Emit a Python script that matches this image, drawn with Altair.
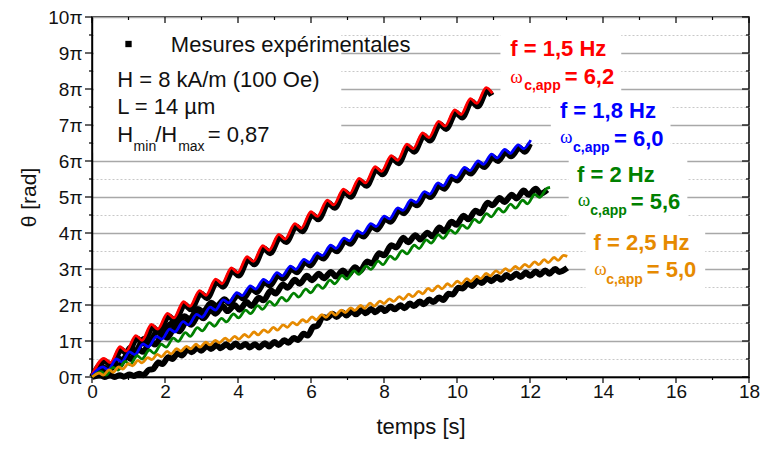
import altair as alt
import pandas as pd

# ---------------- data ----------------
# fitted curves (t in s, theta in units of pi)
red_t = [0.00, 0.33,0.50, 0.77,0.94, 1.20,1.37, 1.63,1.80, 2.07,2.24, 2.51,2.68, 2.95,3.12, 3.39,3.56, 3.82,3.99, 4.25,4.42, 4.68,4.85, 5.12,5.29, 5.56,5.73, 6.00,6.17, 6.45,6.62, 6.89,7.06, 7.32,7.49, 7.76,7.93, 8.20,8.37, 8.63,8.80, 9.06,9.23, 9.50,9.67, 9.94,10.11, 10.37,10.54, 10.80,10.97]
red_theta = [0.05, 0.52,0.40, 0.84,0.72, 1.15,1.02, 1.46,1.33, 1.77,1.64, 2.09,1.96, 2.40,2.27, 2.72,2.59, 3.03,2.90, 3.34,3.21, 3.65,3.52, 3.96,3.83, 4.26,4.13, 4.59,4.46, 4.91,4.78, 5.22,5.09, 5.52,5.39, 5.84,5.71, 6.15,6.02, 6.47,6.34, 6.78,6.65, 7.10,6.97, 7.42,7.29, 7.73,7.60, 8.04,7.88]

blue_t = [0.00, 0.30,0.44, 0.67,0.81, 1.03,1.17, 1.40,1.54, 1.77,1.91, 2.13,2.27, 2.50,2.64, 2.87,3.01, 3.24,3.38, 3.60,3.74, 3.97,4.11, 4.34,4.48, 4.70,4.84, 5.07,5.21, 5.44,5.58, 5.81,5.95, 6.17,6.31, 6.54,6.68, 6.91,7.05, 7.27,7.41, 7.64,7.78, 8.01,8.15, 8.38,8.52, 8.74,8.88, 9.11,9.25, 9.48,9.62, 9.84,9.98, 10.21,10.35, 10.58,10.72, 10.95,11.09, 11.31,11.45, 11.68,11.82, 12.02]
blue_theta = [0.05, 0.28,0.20, 0.50,0.42, 0.70,0.62, 0.92,0.84, 1.13,1.05, 1.33,1.25, 1.54,1.45, 1.74,1.66, 1.94,1.86, 2.14,2.06, 2.34,2.26, 2.53,2.44, 2.71,2.62, 2.90,2.81, 3.08,2.99, 3.27,3.18, 3.45,3.37, 3.66,3.57, 3.86,3.78, 4.06,3.98, 4.26,4.18, 4.47,4.39, 4.70,4.63, 4.92,4.85, 5.15,5.08, 5.39,5.31, 5.61,5.54, 5.82,5.73, 6.00,5.91, 6.19,6.08, 6.32,6.21, 6.45,6.34, 6.58]

green_t = [0.00, 0.25,0.38, 0.58,0.71, 0.91,1.04, 1.24,1.37, 1.57,1.70, 1.90,2.03, 2.23,2.36, 2.56,2.69, 2.89,3.02, 3.22,3.35, 3.55,3.68, 3.88,4.01, 4.21,4.34, 4.54,4.67, 4.87,5.00, 5.20,5.33, 5.53,5.66, 5.86,5.99, 6.19,6.32, 6.52,6.65, 6.85,6.98, 7.18,7.31, 7.51,7.64, 7.84,7.97, 8.17,8.30, 8.50,8.63, 8.83,8.96, 9.16,9.29, 9.49,9.62, 9.82,9.95, 10.15,10.28, 10.48,10.61, 10.81,10.94, 11.14,11.27, 11.47,11.60, 11.80,11.93, 12.13,12.26, 12.46, 12.55]
green_theta = [0.00, 0.15,0.05, 0.27,0.19, 0.43,0.34, 0.59,0.50, 0.75,0.66, 0.91,0.83, 1.08,0.99, 1.23,1.13, 1.37,1.28, 1.51,1.41, 1.63,1.53, 1.75,1.64, 1.86,1.76, 1.98,1.88, 2.10,1.99, 2.21,2.11, 2.33,2.22, 2.44,2.34, 2.56,2.46, 2.69,2.59, 2.82,2.72, 2.95,2.85, 3.08,2.99, 3.22,3.12, 3.36,3.27, 3.51,3.42, 3.66,3.57, 3.81,3.72, 3.95,3.85, 4.08,3.99, 4.22,4.13, 4.38,4.29, 4.54,4.45, 4.68,4.58, 4.80,4.69, 4.91,4.81, 5.07,4.99, 5.24, 5.27]

orange_t = [0.00, 0.20,0.31, 0.47,0.58, 0.73,0.84, 1.00,1.11, 1.26,1.37, 1.53,1.64, 1.79,1.90, 2.06,2.17, 2.32,2.43, 2.59,2.70, 2.85,2.96, 3.12,3.23, 3.38,3.49, 3.65,3.76, 3.91,4.02, 4.18,4.29, 4.44,4.55, 4.71,4.82, 4.97,5.08, 5.24,5.35, 5.50,5.61, 5.77,5.88, 6.03,6.14, 6.30,6.41, 6.56,6.67, 6.83,6.94, 7.09,7.20, 7.36,7.47, 7.62,7.73, 7.89,8.00, 8.15,8.26, 8.42,8.53, 8.68,8.79, 8.95,9.06, 9.21,9.32, 9.48,9.59, 9.74,9.85, 10.01,10.12, 10.27,10.38, 10.54,10.65, 10.80,10.91, 11.07,11.18, 11.33,11.44, 11.60,11.71, 11.86,11.97, 12.13,12.24, 12.39,12.50, 12.66,12.77, 12.92, 13.02]
orange_theta = [0.00, 0.11,0.05, 0.20,0.13, 0.28,0.22, 0.37,0.31, 0.46,0.39, 0.54,0.48, 0.63,0.56, 0.71,0.64, 0.79,0.72, 0.85,0.78, 0.91,0.83, 0.97,0.89, 1.02,0.95, 1.08,1.00, 1.13,1.05, 1.18,1.11, 1.25,1.17, 1.31,1.24, 1.38,1.30, 1.45,1.38, 1.52,1.45, 1.59,1.53, 1.67,1.59, 1.73,1.66, 1.80,1.72, 1.86,1.79, 1.92,1.85, 1.99,1.91, 2.05,1.97, 2.11,2.04, 2.17,2.10, 2.23,2.16, 2.30,2.23, 2.38,2.31, 2.46,2.39, 2.53,2.45, 2.59,2.52, 2.66,2.59, 2.73,2.66, 2.80,2.73, 2.88,2.81, 2.95,2.88, 3.01,2.94, 3.07,3.00, 3.13,3.06, 3.20,3.12, 3.26,3.18, 3.32,3.24, 3.38, 3.35]

# measured curves (black)
m15_t = [0.00, 0.36,0.53, 0.80,0.97, 1.23,1.40, 1.66,1.83, 2.10,2.27, 2.54,2.71, 2.98,3.15, 3.42,3.59, 3.85,4.02, 4.28,4.45, 4.71,4.88, 5.15,5.32, 5.59,5.76, 6.03,6.20, 6.48,6.65, 6.92,7.09, 7.35,7.52, 7.79,7.96, 8.23,8.40, 8.66,8.83, 9.09,9.26, 9.53,9.70, 9.97,10.14, 10.40,10.57, 10.83,10.95]
m15_theta = [0.00, 0.44,0.32, 0.76,0.64, 1.07,0.94, 1.38,1.25, 1.69,1.56, 2.01,1.88, 2.32,2.19, 2.64,2.51, 2.95,2.82, 3.26,3.13, 3.57,3.44, 3.88,3.75, 4.18,4.05, 4.51,4.38, 4.83,4.70, 5.14,5.01, 5.44,5.31, 5.76,5.63, 6.07,5.94, 6.39,6.26, 6.70,6.57, 7.02,6.89, 7.34,7.21, 7.65,7.52, 7.96,7.82]

m18_t = [0.00, 0.33,0.47, 0.70,0.84, 1.06,1.20, 1.43,1.57, 1.80,1.94, 2.16,2.30, 2.53,2.67, 2.90,3.04, 3.27,3.41, 3.63,3.77, 4.00,4.14, 4.37,4.51, 4.73,4.87, 5.10,5.24, 5.47,5.61, 5.84,5.98, 6.20,6.34, 6.57,6.71, 6.94,7.08, 7.30,7.44, 7.67,7.81, 8.04,8.18, 8.41,8.55, 8.77,8.91, 9.14,9.28, 9.51,9.65, 9.87,10.01, 10.24,10.38, 10.61,10.75, 10.98,11.12, 11.34,11.48, 11.71,11.85, 12.00]
m18_theta = [0.00, 0.26,0.18, 0.53,0.46, 0.82,0.74, 1.06,0.98, 1.28,1.20, 1.48,1.40, 1.69,1.60, 1.89,1.81, 2.06,1.96, 2.16,2.04, 2.28,2.18, 2.45,2.36, 2.63,2.54, 2.82,2.73, 3.00,2.91, 3.19,3.10, 3.37,3.29, 3.58,3.49, 3.78,3.70, 3.98,3.90, 4.18,4.10, 4.39,4.31, 4.62,4.55, 4.84,4.77, 5.07,5.00, 5.31,5.23, 5.53,5.46, 5.74,5.65, 5.92,5.83, 6.11,6.00, 6.24,6.13, 6.37,6.26, 6.48]

m20_t = [0.00, 0.28,0.41, 0.61,0.74, 0.94,1.07, 1.27,1.40, 1.60,1.73, 1.93,2.06, 2.26,2.39, 2.59,2.72, 2.92,3.05, 3.25,3.38, 3.58,3.71, 3.91,4.04, 4.24,4.37, 4.57,4.70, 4.90,5.03, 5.23,5.36, 5.56,5.69, 5.89,6.02, 6.22,6.35, 6.55,6.68, 6.88,7.01, 7.21,7.34, 7.54,7.67, 7.87,8.00, 8.20,8.33, 8.53,8.66, 8.86,8.99, 9.19,9.32, 9.52,9.65, 9.85,9.98, 10.18,10.31, 10.51,10.64, 10.84,10.97, 11.17,11.30, 11.50,11.63, 11.83,11.96, 12.16,12.29, 12.47]
m20_theta = [0.00, 0.20,0.12, 0.38,0.30, 0.57,0.50, 0.77,0.70, 0.97,0.90, 1.17,1.09, 1.35,1.27, 1.53,1.45, 1.72,1.63, 1.86,1.76, 1.97,1.83, 2.00,1.87, 2.08,1.97, 2.20,2.13, 2.40,2.32, 2.57,2.48, 2.70,2.59, 2.81,2.69, 2.87,2.74, 2.92,2.79, 2.96,2.83, 3.05,2.94, 3.21,3.15, 3.44,3.38, 3.66,3.60, 3.87,3.74, 3.94,3.82, 4.01,3.91, 4.15,4.05, 4.31,4.23, 4.48,4.38, 4.62,4.55, 4.84,4.77, 4.97,4.86, 5.06,4.96, 5.18,5.06, 5.23,5.09, 5.20]

m25_t = [0.00, 0.23,0.34, 0.50,0.61, 0.76,0.87, 1.03,1.14, 1.29,1.40, 1.56,1.67, 1.82,1.93, 2.09,2.20, 2.35,2.46, 2.62,2.73, 2.88,2.99, 3.15,3.26, 3.41,3.52, 3.68,3.79, 3.94,4.05, 4.21,4.32, 4.47,4.58, 4.74,4.85, 5.00,5.11, 5.27,5.38, 5.53,5.64, 5.80,5.91, 6.06,6.17, 6.33,6.44, 6.59,6.70, 6.86,6.97, 7.12,7.23, 7.39,7.50, 7.65,7.76, 7.92,8.03, 8.18,8.29, 8.45,8.56, 8.71,8.82, 8.98,9.09, 9.24,9.35, 9.51,9.62, 9.77,9.88, 10.04,10.15, 10.30,10.41, 10.57,10.68, 10.83,10.94, 11.10,11.21, 11.36,11.47, 11.63,11.74, 11.89,12.00, 12.16,12.27, 12.42,12.53, 12.69,12.80, 13.02]
m25_theta = [0.00, 0.05,0.00, 0.05,0.00, 0.05,0.01, 0.07,0.03, 0.09,0.05, 0.20,0.22, 0.40,0.36, 0.55,0.50, 0.66,0.60, 0.77,0.69, 0.81,0.73, 0.86,0.78, 0.89,0.80, 0.91,0.82, 0.93,0.83, 0.92,0.82, 0.91,0.82, 0.94,0.85, 0.97,0.89, 1.02,0.95, 1.08,1.03, 1.20,1.15, 1.39,1.42, 1.67,1.64, 1.76,1.67, 1.80,1.71, 1.83,1.74, 1.86,1.77, 1.89,1.80, 1.92,1.83, 1.96,1.88, 1.99,1.91, 2.04,1.97, 2.10,2.02, 2.15,2.08, 2.21,2.14, 2.31,2.29, 2.48,2.46, 2.60,2.53, 2.68,2.61, 2.74,2.66, 2.78,2.70, 2.83,2.75, 2.87,2.78, 2.90,2.81, 2.93,2.84, 2.96,2.87, 3.00,2.92, 3.03]

# axis ticks
x_ticks = list(range(0, 19))
y_ticks = [i / 2 for i in range(21)]

# labels
fit_names = ["f15", "f18", "f20", "f25"]
fit_colors = ["#FF0000", "#0000FF", "#008000", "#E68A00"]
f_labels = ["f = 1,5 Hz", "f = 1,8 Hz", "f = 2 Hz", "f = 2,5 Hz"]
w_values = ["= 6,2", "= 6,0", "= 5,6", "= 5,0"]

# ---------------- build tables ----------------
def mk(name, t, th):
    d = pd.DataFrame({"t": t, "theta": th})
    d["curve"] = name
    return d

fits = pd.concat([mk("f15", red_t, red_theta), mk("f18", blue_t, blue_theta),
                  mk("f20", green_t, green_theta), mk("f25", orange_t, orange_theta)])
meas = pd.concat([mk("m15", m15_t, m15_theta), mk("m18", m18_t, m18_theta),
                  mk("m20", m20_t, m20_theta), mk("m25", m25_t, m25_theta)])

W, H = 657, 360
FONT = "Liberation Sans"

x_axis = alt.Axis(
    values=x_ticks, labelExpr="datum.value % 2 === 0 ? datum.label : ''",
    ticks=False, tickSize=0, grid=False,
    titleFontSize=22, titleFontWeight="normal",
    labelFontSize=19, labelPadding=5, titlePadding=15, labelOverlap=False, labelFlush=False,
    domainColor="black", domainWidth=1.5,
    labelColor="#111", titleColor="#111", labelFont=FONT, titleFont=FONT)

y_axis = alt.Axis(
    values=y_ticks, labelExpr="datum.value % 1 === 0 ? datum.value + 'π' : ''",
    ticks=False, tickSize=0, grid=True,
    gridColor={"condition": {"test": "datum.value % 1 === 0", "value": "#A8A8A8"}, "value": "#C8C8C8"},
    gridDash={"condition": {"test": "datum.value % 1 === 0", "value": []}, "value": [2, 2]},
    gridWidth={"condition": {"test": "datum.value % 1 === 0", "value": 1.3}, "value": 1},
    titleFontSize=21, titleFontWeight="normal", titlePadding=8,
    labelFontSize=19, labelPadding=10, labelOverlap=False, labelFlush=False,
    domainColor="black", domainWidth=1.5,
    labelColor="#111", titleColor="#111", labelFont=FONT, titleFont=FONT)

xs = alt.Scale(domain=[0, 18], nice=False, zero=False)
ys = alt.Scale(domain=[0, 10], nice=False, zero=False)


def X(field="t:Q"):
    return alt.X(field, scale=xs, axis=x_axis, title="temps [s]")


def Y(field="theta:Q"):
    return alt.Y(field, scale=ys, axis=y_axis, title="θ [rad]")


meas_layer = alt.Chart(meas).mark_line(interpolate="monotone", strokeWidth=6, color="black").encode(
    x=X(), y=Y(), detail="curve:N")

# white boxes behind the annotations (cover the grid)
boxes = pd.DataFrame({
    "t": [0.05, 11.19, 12.57, 13.06, 13.52],
    "t_end": [6.83, 14.50, 15.85, 16.31, 16.80],
    "theta": [6.23, 7.73, 6.29, 4.29, 2.33],
    "theta_end": [9.89, 9.67, 7.67, 6.23, 4.29],
})
box_layer = alt.Chart(boxes).mark_rect(fill="white", strokeWidth=0).encode(
    x=X(), x2="t_end:Q", y=Y(), y2="theta_end:Q")

fit_layer = alt.Chart(fits).mark_line(interpolate="monotone", strokeWidth=2.8).encode(
    x=X(), y=Y(),
    color=alt.Color("curve:N", scale=alt.Scale(domain=fit_names, range=fit_colors), legend=None),
    detail="curve:N")

# frame ticks: outward on bottom/left, inward on top/right
top_df = pd.DataFrame({"t": x_ticks})
right_df = pd.DataFrame({"theta": y_ticks})
EVEN = "datum.t % 2 === 0"
ODD = "datum.t % 2 !== 0"
INT = "datum.theta % 1 === 0"
HALF = "datum.theta % 1 !== 0"


def xrule(flt, y1, y2):
    return alt.Chart(top_df).transform_filter(flt).mark_rule(color="black", strokeWidth=1.2).encode(
        x=X(), y=alt.value(y1), y2=alt.value(y2))


def yrule(flt, x1, x2):
    return alt.Chart(right_df).transform_filter(flt).mark_rule(color="black", strokeWidth=1.2).encode(
        y=Y(), x=alt.value(x1), x2=alt.value(x2))


tick_layers = [
    xrule(EVEN, 0, 6), xrule(ODD, 0, 3),
    xrule(EVEN, H, H + 6), xrule(ODD, H, H + 3),
    yrule(INT, W, W - 7), yrule(HALF, W, W - 3),
    yrule(INT, 0, -7), yrule(HALF, 0, -3),
]

# legend / parameter block (top-left)
leg_text = pd.DataFrame({
    "t": [2.16, 0.69, 0.69, 0.69, 1.14, 1.73, 2.36, 3.17],
    "theta": [9.03, 8.06, 7.31, 6.52, 6.29, 6.52, 6.29, 6.52],
    "label": ["Mesures expérimentales", "H = 8 kA/m (100 Oe)", "L = 14 µm", "H", "min", "/H", "max", "= 0,87"],
    "fs": [22, 22, 22, 22, 14, 22, 14, 22],
})
leg_layer = alt.Chart(leg_text).mark_text(align="left", baseline="alphabetic", font=FONT, color="#111").encode(
    x=X(), y=Y(), text="label:N", size=alt.Size("fs:Q", scale=None))
leg_marker = alt.Chart(pd.DataFrame({"t": [1.0], "theta": [9.25]})).mark_point(
    shape="square", filled=True, color="black", size=40, opacity=1).encode(x=X(), y=Y())

# right-hand frequency labels
f_df = pd.DataFrame({"t": [11.46, 12.82, 13.29, 13.74], "theta": [8.92, 7.19, 5.41, 3.54],
                     "label": f_labels, "col": fit_colors})
w_df = pd.DataFrame({"t": [11.46, 12.82, 13.31, 13.76], "theta": [8.17, 6.49, 4.74, 2.83],
                     "label": ["ω"] * 4, "col": fit_colors})
sub_df = pd.DataFrame({"t": [11.84, 13.18, 13.65, 14.09], "theta": [7.96, 6.26, 4.49, 2.58],
                       "label": ["c,app"] * 4, "col": fit_colors})
val_df = pd.DataFrame({"t": [12.95, 14.30, 14.76, 15.20], "theta": [8.14, 6.43, 4.67, 2.78],
                       "label": w_values, "col": fit_colors})


def txt(df, size, weight, font):
    return alt.Chart(df).mark_text(align="left", baseline="alphabetic", fontSize=size,
                                   fontWeight=weight, font=font).encode(
        x=X(), y=Y(), text="label:N", color=alt.Color("col:N", scale=None))


f_layer = txt(f_df, 22, "bold", FONT)
w_layer = txt(w_df, 19, "normal", "Liberation Serif")
sub_layer = txt(sub_df, 14, "bold", FONT)
val_layer = txt(val_df, 22, "bold", FONT)

chart = alt.layer(
    meas_layer, box_layer, fit_layer, *tick_layers,
    leg_layer, leg_marker, f_layer, w_layer, sub_layer, val_layer,
).properties(
    width=W, height=H,
    autosize=alt.AutoSizeParams(type="none"),
    padding={"left": 84, "top": 9, "right": 11, "bottom": 65},
).configure_view(stroke="black", strokeWidth=1.5)

chart.save("out.html", embed_options={"renderer": "svg", "actions": False})
